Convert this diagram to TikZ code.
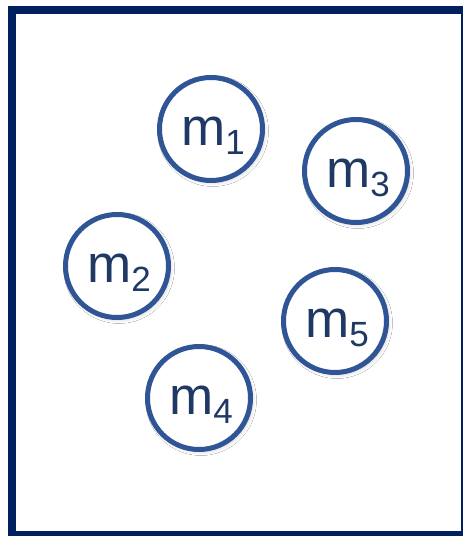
\documentclass[tikz,border=0pt]{standalone}
\usepackage{fontspec}
\setmainfont{Liberation Sans}
\usetikzlibrary{shadows.blur}
\definecolor{frameblue}{HTML}{002060}
\definecolor{ringblue}{HTML}{2F5597}
\definecolor{textblue}{HTML}{1F3864}
\newcommand{\mlabel}[1]{{\fontsize{53}{53}\selectfont m}\raisebox{-9pt}{\fontsize{35}{35}\selectfont #1}}
\tikzset{
  ring/.style={circle, draw=ringblue, line width=5pt, fill=white, minimum size=103pt, inner sep=0pt,
    blur shadow={shadow xshift=2pt, shadow yshift=-2pt, shadow blur radius=4pt, shadow opacity=20}},
  mtext/.style={anchor=base, text=textblue, inner sep=0pt}
}
\begin{document}
\begin{tikzpicture}[x=1pt,y=-1pt]
\useasboundingbox (0,0) rectangle (463,536);
\fill[white] (0,0) rectangle (463,536);
\begin{scope}
\clip (0,0) rectangle (463,536);
\draw[frameblue, line width=8pt] (12,10) rectangle (465,535);
\end{scope}
\node[ring] (c1) at (211,129) {};
\node[ring] (c3) at (356,171) {};
\node[ring] (c2) at (117,266) {};
\node[ring] (c5) at (335,321) {};
\node[ring] (c4) at (199,398) {};
\node[mtext] (t1) at (213,145) {\mlabel{1}};
\node[mtext] (t3) at (358,187) {\mlabel{3}};
\node[mtext] (t2) at (119,282) {\mlabel{2}};
\node[mtext] (t5) at (337,337) {\mlabel{5}};
\node[mtext] (t4) at (201,414) {\mlabel{4}};
\end{tikzpicture}
\end{document}
